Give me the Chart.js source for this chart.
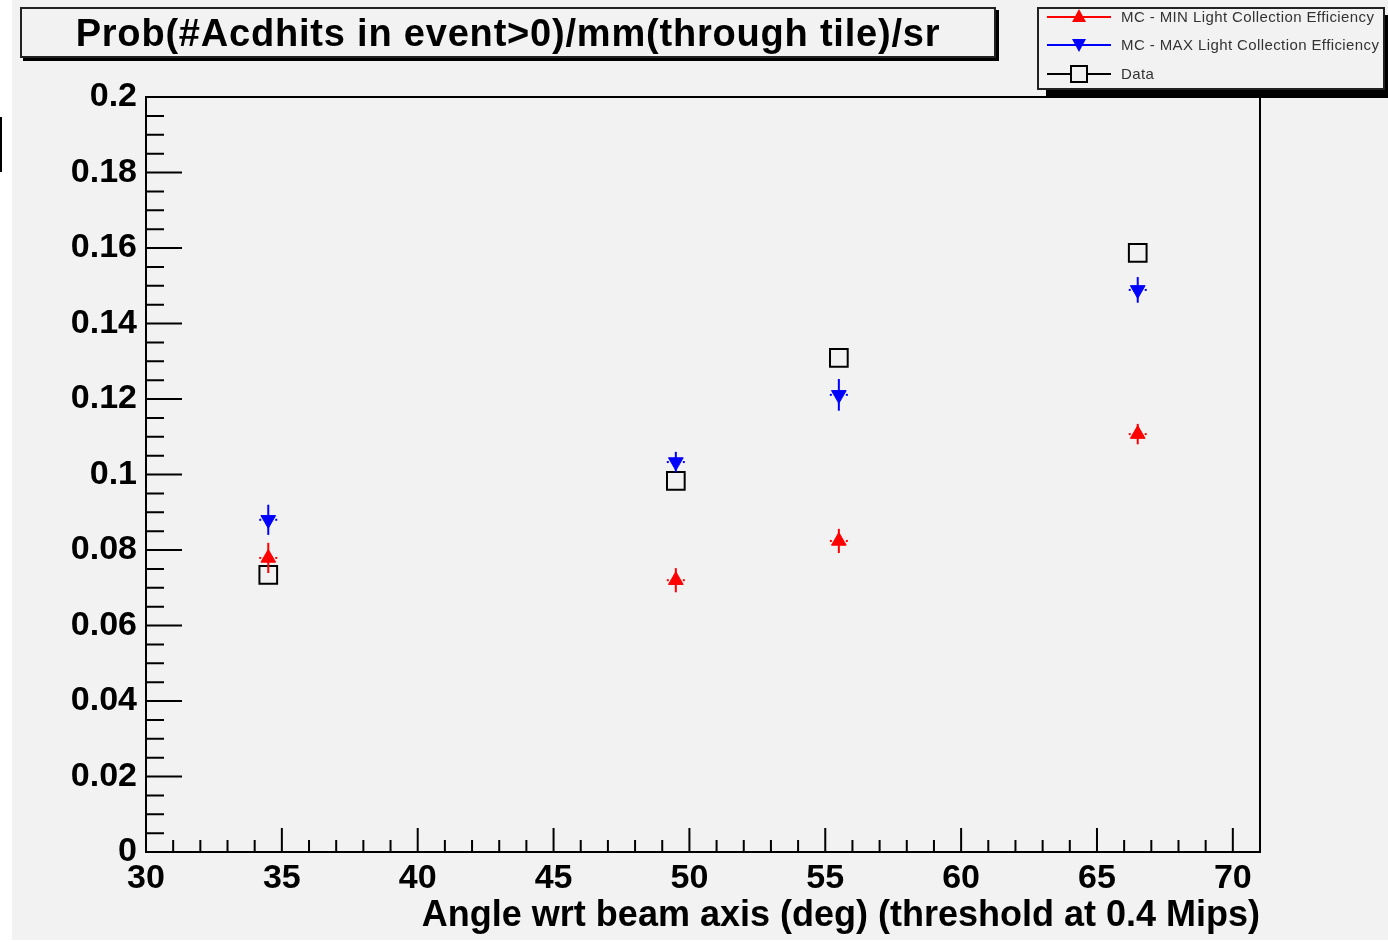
<!DOCTYPE html>
<html lang="en">
<head>
<meta charset="utf-8" />
<title>Prob(#Acdhits in event&gt;0)/mm(through tile)/sr</title>
<script src="https://cdn.jsdelivr.net/npm/chart.js@4.4.1/dist/chart.umd.min.js"></script>
<style>
  html, body { margin: 0; padding: 0; background: #fff; }
  #wrap { position: relative; width: 1388px; height: 942px; overflow: hidden; font-family: "Liberation Sans", Arial, sans-serif; }
  #page { position: absolute; left: 12px; top: 0; width: 1376px; height: 940px; background: #f2f2f2; }
  #edgeMark { position: absolute; left: 0; top: 117px; width: 2px; height: 55px; background: #000; }
  #chartBox { position: absolute; left: 0; top: 0; width: 1388px; height: 942px; }
  #titleBox {
    position: absolute; left: 20px; top: 7px; width: 972px; height: 47px;
    border: 2px solid #222; background: #f2f2f2; box-shadow: 3px 3px 0 #000;
    font-weight: bold; font-size: 38px; letter-spacing: 0.8px; line-height: 49px; text-align: center; color: #000;
    white-space: nowrap;
  }
  #legendBox {
    position: absolute; left: 1037px; top: 7px; width: 344px; height: 79px;
    border: 2px solid #222; background: #f2f2f2; box-shadow: 9px 8px 0 #000;
  }
  .legSym { position: absolute; left: 1046px; width: 66px; height: 20px; }
  .legText { position: absolute; left: 1121px; font-size: 15px; letter-spacing: 0.4px; line-height: 18px; color: #333; white-space: nowrap; }
</style>
</head>
<body>
<div id="wrap">
  <div id="page"></div>
  <div id="edgeMark"></div>
  <div id="chartBox"><canvas id="chart" width="1388" height="942"></canvas></div>
  <div id="titleBox">Prob(#Acdhits in event&gt;0)/mm(through tile)/sr</div>
  <div id="legendBox"></div>
  <svg class="legSym" style="top:7px" viewBox="0 0 66 20">
    <line x1="1" y1="10" x2="65" y2="10" stroke="#ff0000" stroke-width="2"/>
    <polygon points="33,2 40,15 26,15" fill="#ff0000"/>
  </svg>
  <div class="legText" style="top:8px">MC - MIN Light Collection Efficiency</div>
  <svg class="legSym" style="top:35px" viewBox="0 0 66 20">
    <line x1="1" y1="10" x2="65" y2="10" stroke="#0000ff" stroke-width="2"/>
    <polygon points="26,4 40,4 33,17" fill="#0000ff"/>
  </svg>
  <div class="legText" style="top:36px">MC - MAX Light Collection Efficiency</div>
  <svg class="legSym" style="top:64px" viewBox="0 0 66 20">
    <line x1="1" y1="10" x2="65" y2="10" stroke="#000" stroke-width="2"/>
    <rect x="25" y="2" width="16" height="16" fill="#f2f2f2" stroke="#000" stroke-width="2"/>
  </svg>
  <div class="legText" style="top:65px">Data</div>
</div>

<script>
  // values
  const angles = [34.5, 49.5, 55.5, 66.5];
  const minEff = [0.0779, 0.0720, 0.0824, 0.1107];
  const minErr = [0.0040, 0.0032, 0.0032, 0.0027];
  const maxEff = [0.0880, 0.1033, 0.1211, 0.1489];
  const maxErr = [0.0040, 0.0027, 0.0042, 0.0034];
  const dataEff = [0.0734, 0.0983, 0.1309, 0.1587];

  const xTickValues = [30, 35, 40, 45, 50, 55, 60, 65, 70];
  const yTickValues = [0, 0.02, 0.04, 0.06, 0.08, 0.1, 0.12, 0.14, 0.16, 0.18, 0.2];
  const yTickLabels = ["0", "0.02", "0.04", "0.06", "0.08", "0.1", "0.12", "0.14", "0.16", "0.18", "0.2"];
  const xMinorStep = 1;
  const yMinorStep = 0.005;

  const toPoints = (ys) => angles.map((x, i) => ({ x: x, y: ys[i] }));

  // ROOT style frame with inward ticks
  const framePlugin = {
    id: "frame",
    afterDraw(chart) {
      const { ctx, chartArea: a, scales: { x, y } } = chart;
      ctx.save();
      ctx.strokeStyle = "#000";
      ctx.lineWidth = 2;
      ctx.strokeRect(a.left, a.top, a.right - a.left, a.bottom - a.top);
      ctx.beginPath();
      for (let v = x.min; v <= x.max + 1e-9; v += xMinorStep) {
        const px = x.getPixelForValue(v);
        const len = xTickValues.includes(Math.round(v * 1000) / 1000) ? 24 : 12;
        ctx.moveTo(px, a.bottom);
        ctx.lineTo(px, a.bottom - len);
      }
      for (let i = 0; i * yMinorStep <= y.max + 1e-9; i++) {
        const v = i * yMinorStep;
        const py = y.getPixelForValue(v);
        const len = i % 4 === 0 ? 36 : 18;
        ctx.moveTo(a.left, py);
        ctx.lineTo(a.left + len, py);
      }
      ctx.stroke();
      ctx.restore();
    }
  };

  // vertical error bars drawn through the y scale
  const errorBarPlugin = {
    id: "errorBars",
    afterDatasetsDraw(chart) {
      const { ctx, scales: { x, y } } = chart;
      chart.data.datasets.forEach((ds) => {
        if (!ds.errors) return;
        ctx.save();
        ctx.strokeStyle = ds.borderColor;
        ctx.fillStyle = ds.borderColor;
        ctx.lineWidth = 2;
        ds.data.forEach((p, i) => {
          const px = x.getPixelForValue(p.x);
          const py = y.getPixelForValue(p.y);
          ctx.beginPath();
          ctx.moveTo(px, y.getPixelForValue(p.y + ds.errors[i]));
          ctx.lineTo(px, y.getPixelForValue(p.y - ds.errors[i]));
          ctx.stroke();
          ctx.fillRect(px - 9, py - 1, 2, 2);
          ctx.fillRect(px + 7, py - 1, 2, 2);
        });
        ctx.restore();
      });
    }
  };

  new Chart(document.getElementById("chart"), {
    type: "scatter",
    data: {
      datasets: [
        {
          label: "MC - MIN Light Collection Efficiency",
          data: toPoints(minEff),
          errors: minErr,
          pointStyle: "triangle",
          pointRadius: 8.5,
          backgroundColor: "#ff0000",
          borderColor: "#ff0000",
          borderWidth: 1
        },
        {
          label: "MC - MAX Light Collection Efficiency",
          data: toPoints(maxEff),
          errors: maxErr,
          pointStyle: "triangle",
          rotation: 180,
          pointRadius: 8.5,
          backgroundColor: "#0000ff",
          borderColor: "#0000ff",
          borderWidth: 1
        },
        {
          label: "Data",
          data: toPoints(dataEff),
          pointStyle: "rect",
          pointRadius: 12.5,
          backgroundColor: "rgba(0,0,0,0)",
          borderColor: "#000",
          borderWidth: 2
        }
      ]
    },
    options: {
      responsive: false,
      animation: false,
      layout: { padding: { left: 12, top: 97, right: 128, bottom: 0 } },
      plugins: { legend: { display: false }, tooltip: { enabled: false } },
      scales: {
        x: {
          type: "linear",
          min: 30,
          max: 71,
          afterBuildTicks: (s) => { s.ticks = xTickValues.map((v) => ({ value: v })); },
          afterFit: (s) => { s.height = 90; },
          grid: { display: false, drawTicks: false },
          border: { display: false },
          ticks: {
            padding: 6,
            color: "#000",
            maxRotation: 0,
            autoSkip: false,
            font: { family: "Liberation Sans", size: 34, weight: "bold" }
          },
          title: {
            display: true,
            text: "Angle wrt beam axis (deg) (threshold at 0.4 Mips)",
            align: "end",
            color: "#000",
            padding: { top: 0, bottom: 4 },
            font: { family: "Liberation Sans", size: 36, weight: "bold", lineHeight: 1.2 }
          }
        },
        y: {
          type: "linear",
          min: 0,
          max: 0.2,
          afterBuildTicks: (s) => { s.ticks = yTickValues.map((v) => ({ value: v })); },
          afterFit: (s) => { s.width = 134; },
          grid: { display: false, drawTicks: false },
          border: { display: false },
          ticks: {
            padding: 9,
            color: "#000",
            autoSkip: false,
            font: { family: "Liberation Sans", size: 34, weight: "bold" },
            callback: (v, i) => yTickLabels[i]
          }
        }
      }
    },
    plugins: [framePlugin, errorBarPlugin]
  });
</script>
</body>
</html>
